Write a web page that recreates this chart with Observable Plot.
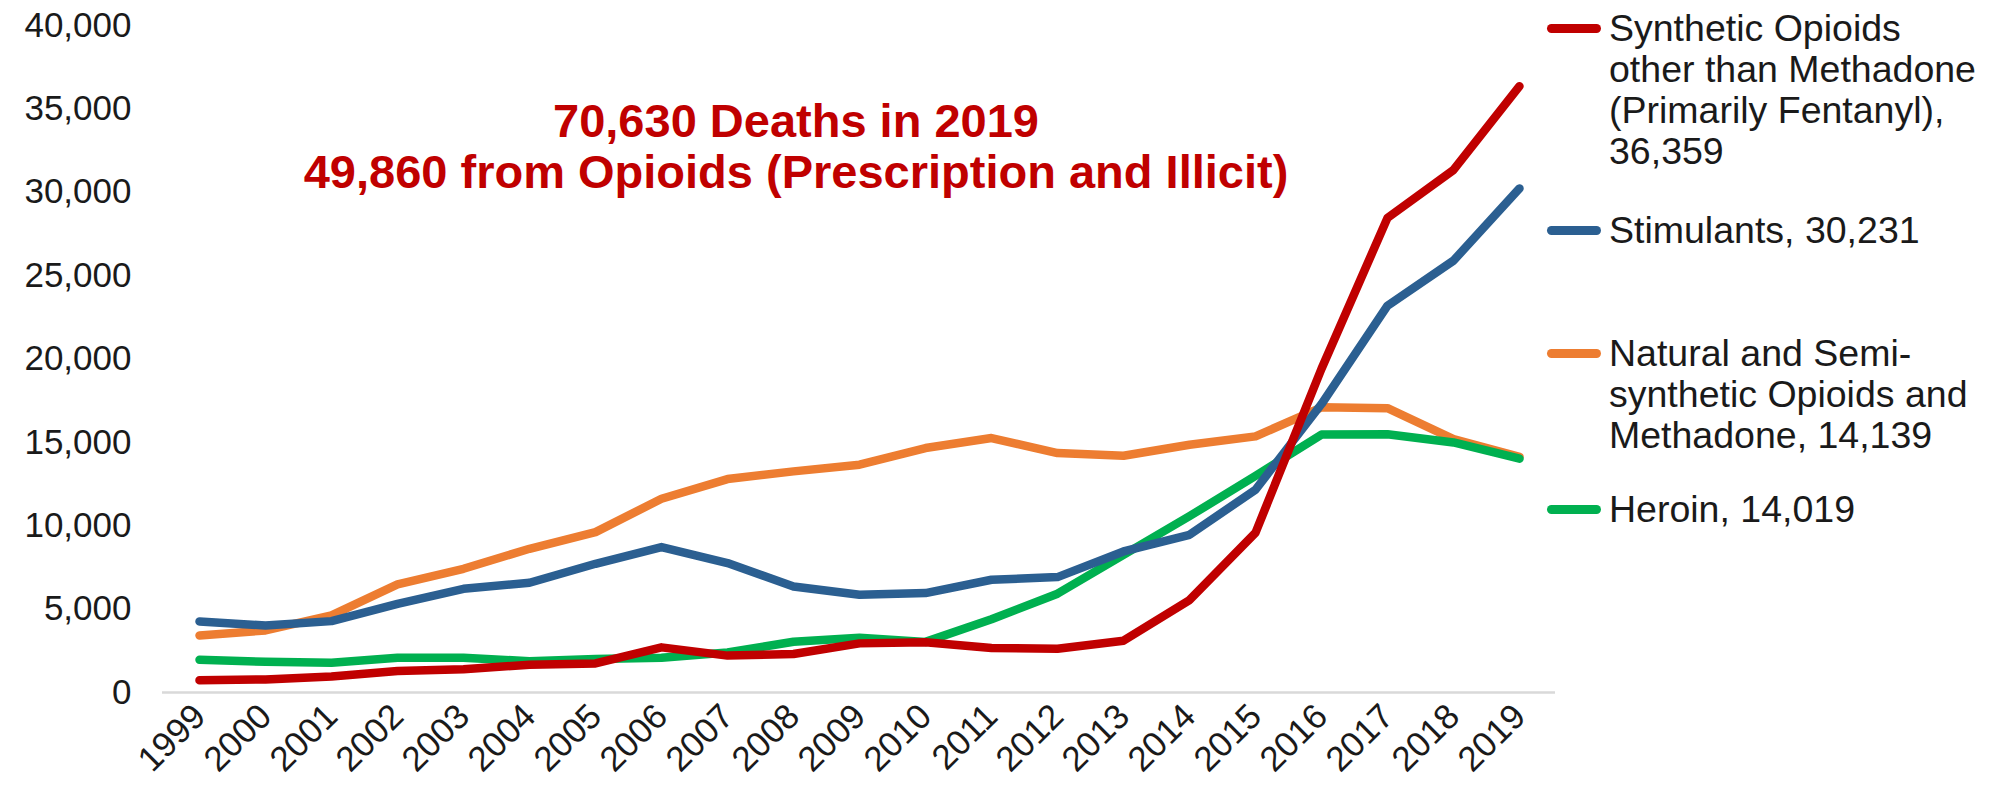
<!DOCTYPE html>
<html>
<head>
<meta charset="utf-8">
<script src="https://cdn.jsdelivr.net/npm/d3@7"></script>
<script src="https://cdn.jsdelivr.net/npm/@observablehq/plot@0.6"></script>
<style>
  html, body { margin: 0; padding: 0; background: #fff; }
  #wrap { position: relative; width: 2003px; height: 797px; font-family: "Liberation Sans", Arial, sans-serif; }
  #legend { position: absolute; left: 0; top: 0; }
  .entry { position: absolute; left: 1547px; display: flex; align-items: flex-start; }
  .swatch { width: 54px; height: 9px; border-radius: 4.5px; margin-top: 16px; margin-right: 8px; }
  .label { font-size: 37.5px; line-height: 41px; color: #1a1a1a; white-space: pre; }
</style>
</head>
<body>
<div id="wrap"></div>
<script>
// Drug overdose deaths by drug category, United States, 1999–2019
const years = ["1999","2000","2001","2002","2003","2004","2005","2006","2007","2008","2009",
               "2010","2011","2012","2013","2014","2015","2016","2017","2018","2019"];

const synthetic = [730, 782, 957, 1295, 1400, 1664, 1742, 2707, 2213, 2306, 2946,
                   3007, 2666, 2628, 3105, 5544, 9580, 19413, 28466, 31335, 36359];
const stimulants = [4260, 4020, 4280, 5320, 6220, 6580, 7720, 8720, 7760, 6360, 5860,
                    5960, 6760, 6920, 8460, 9460, 12160, 17300, 23200, 25900, 30231];
const naturalMethadone = [3420, 3720, 4620, 6480, 7420, 8620, 9620, 11620, 12800, 13260, 13660,
                          14660, 15260, 14360, 14200, 14860, 15360, 17100, 17050, 15200, 14139];
const heroin = [1960, 1842, 1779, 2089, 2080, 1878, 2009, 2088, 2399, 3041, 3278,
                3036, 4397, 5925, 8257, 10574, 12989, 15469, 15482, 14996, 14019];

const yTicks = [0, 5000, 10000, 15000, 20000, 25000, 30000, 35000, 40000];

const seriesNames = [
  "Synthetic Opioids\nother than Methadone\n(Primarily Fentanyl)",
  "Stimulants",
  "Natural and Semi-\nsynthetic Opioids and\nMethadone",
  "Heroin"
];
const seriesColors = ["#c00000", "#2b5f91", "#ed7d31", "#00b050"];
const seriesValues = [synthetic, stimulants, naturalMethadone, heroin];
const valueOnNewLine = [true, false, false, false];
const legendTops = [8, 210, 333, 489];

const titleLines = ["70,630 Deaths in 2019", "49,860 from Opioids (Prescription and Illicit)"];

const fmt = d3.format(",");

// long-format rows for the line marks
const rows = seriesNames.flatMap((name, s) =>
  years.map((year, i) => ({series: s, year, value: seriesValues[s][i]}))
);
// drawing order: orange, green, blue, red on top
const drawOrder = [2, 3, 1, 0];

const chart = Plot.plot({
  width: 2003,
  height: 797,
  marginTop: 25,
  marginBottom: 105,
  marginLeft: 162,
  marginRight: 448,
  style: {fontFamily: "'Liberation Sans', Arial, sans-serif", background: "#fff", color: "#1a1a1a"},
  x: {type: "point", domain: years, padding: 0.5},
  y: {domain: [0, 40000]},
  marks: [
    Plot.axisY({ticks: yTicks, tickFormat: fmt, tickSize: 0, tickPadding: 31, fontSize: 35, label: null}),
    Plot.axisX({tickSize: 0, tickPadding: 18, tickRotate: -45, fontSize: 35, label: null}),
    Plot.ruleY([0], {stroke: "#d9d9d9", strokeWidth: 2.5}),
    ...drawOrder.map(s => Plot.line(rows.filter(r => r.series === s), {
      x: "year", y: "value", stroke: seriesColors[s], strokeWidth: 8.5,
      strokeLinecap: "round", strokeLinejoin: "round"
    })),
    Plot.text([titleLines[0]], {frameAnchor: "top", dx: -63, dy: 96, lineAnchor: "middle",
      fontSize: 47, fontWeight: "bold", fill: "#c00000"}),
    Plot.text([titleLines[1]], {frameAnchor: "top", dx: -63, dy: 147, lineAnchor: "middle",
      fontSize: 47, fontWeight: "bold", fill: "#c00000"})
  ]
});

const wrap = document.getElementById("wrap");
wrap.appendChild(chart);

const legend = document.createElement("div");
legend.id = "legend";
seriesNames.forEach((name, s) => {
  const vals = seriesValues[s];
  const entry = document.createElement("div");
  entry.className = "entry";
  entry.style.top = legendTops[s] + "px";
  const sw = document.createElement("div");
  sw.className = "swatch";
  sw.style.background = seriesColors[s];
  const lab = document.createElement("div");
  lab.className = "label";
  lab.textContent = name + "," + (valueOnNewLine[s] ? "\n" : " ") + fmt(vals[vals.length - 1]);
  entry.appendChild(sw);
  entry.appendChild(lab);
  legend.appendChild(entry);
});
wrap.appendChild(legend);
</script>
</body>
</html>
